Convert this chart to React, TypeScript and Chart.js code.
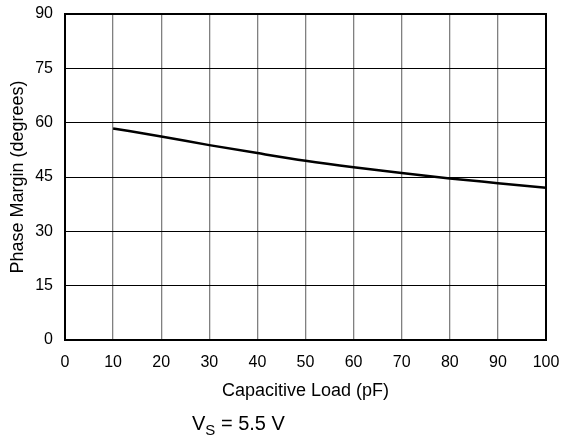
import React, { useEffect, useRef } from "react";
import { Chart, registerables } from "chart.js";

Chart.register(...registerables);

const capacitiveLoad = [10, 20, 30, 40, 50, 60, 70, 80, 90, 100];
const phaseMargin = [58.4, 56.2, 53.8, 51.6, 49.5, 47.7, 46.1, 44.6, 43.3, 42.0];
const xTitle = "Capacitive Load (pF)";
const yTitle = "Phase Margin (degrees)";

const FONT = "'Liberation Sans', Arial, Helvetica, sans-serif";

const frame = {
  id: "frame",
  beforeDatasetsDraw(chart: any) {
    const { ctx, chartArea } = chart;
    ctx.save();
    ctx.strokeStyle = "#000";
    ctx.lineWidth = 2;
    ctx.strokeRect(chartArea.left, chartArea.top, chartArea.right - chartArea.left, chartArea.bottom - chartArea.top);
    ctx.restore();
  },
};

export default function App() {
  const ref = useRef<HTMLCanvasElement>(null);
  useEffect(() => {
    if (!ref.current) return;
    const chart = new Chart(ref.current, {
      type: "line",
      data: {
        datasets: [
          {
            data: capacitiveLoad.map((x, i) => ({ x, y: phaseMargin[i] })),
            borderColor: "#000",
            borderWidth: 2.5,
            pointRadius: 0,
            tension: 0.4,
            cubicInterpolationMode: "monotone",
            fill: false,
          },
        ],
      },
      plugins: [frame],
      options: {
        animation: false,
        responsive: false,
        events: [],
        layout: { padding: { left: 0, right: 16, top: 14, bottom: 39 } },
        plugins: { legend: { display: false }, tooltip: { enabled: false } },
        scales: {
          x: {
            type: "linear",
            min: 0,
            max: 100,
            afterFit: (s: any) => {
              s.height = 62;
              s.paddingLeft = 0;
              s.paddingRight = 0;
            },
            ticks: { stepSize: 10, color: "#000", padding: 13, font: { family: FONT, size: 16 } },
            grid: { color: "#808080", lineWidth: 1.3, drawTicks: false },
            border: { display: true, color: "#000", width: 2 },
            title: { display: true, text: xTitle, color: "#000", padding: 0, font: { family: FONT, size: 18 } },
          },
          y: {
            type: "linear",
            min: 0,
            max: 90,
            afterFit: (s: any) => {
              s.width = 65;
              s.paddingTop = 0;
              s.paddingBottom = 0;
            },
            ticks: { stepSize: 15, color: "#000", padding: 12, font: { family: FONT, size: 16 } },
            grid: { color: "#000", lineWidth: 1, drawTicks: false },
            border: { display: true, color: "#000", width: 2 },
            title: { display: true, text: yTitle, color: "#000", padding: { top: 7, bottom: 0 }, font: { family: FONT, size: 18 } },
          },
        },
      },
    } as any);
    return () => chart.destroy();
  }, []);
  return (
    <div style={{ position: "absolute", left: 0, top: 0, width: 562, height: 441, background: "#fff" }}>
      <canvas ref={ref} width={562} height={441} style={{ width: 562, height: 441, display: "block" }} />
      <div
        style={{
          position: "absolute",
          left: 192,
          top: 412,
          fontFamily: FONT,
          fontSize: 20,
          lineHeight: "23px",
          color: "#000",
          whiteSpace: "nowrap",
        }}
      >
        V<span style={{ fontSize: 15, position: "relative", top: 5 }}>S</span> = 5.5 V
      </div>
    </div>
  );
}
